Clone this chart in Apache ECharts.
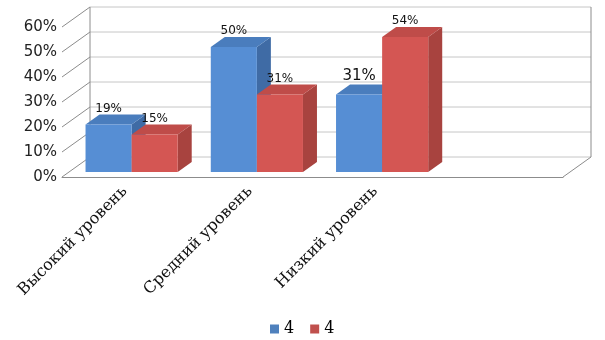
<!DOCTYPE html>
<html><head><meta charset="utf-8">
<script src="https://cdn.jsdelivr.net/npm/echarts@6/dist/echarts.min.js"></script>
<style>html,body{margin:0;padding:0;background:#fff}#c{width:605px;height:340px}</style>
</head><body><div id="c"></div>
<script>
const categories = ['Высокий уровень', 'Средний уровень', 'Низкий уровень', ''];
const seriesNames = ['Ряд 1', 'Ряд 2'];
const legendLabels = ['4', '4'];
const blueValues = [0.19, 0.50, 0.31];
const redValues = [0.15, 0.31, 0.54];
const yTicks = [0, 0.1, 0.2, 0.3, 0.4, 0.5, 0.6];

const DX = 28, DY = -20;        // depth of the 3D box
const FRONT = 0.25, BACK = 0.75; // bar depth fractions
const BAR_FRAC = 0.368;

const palette = [
  {front: '#568ed4', top: '#4a7dbd', side: '#3f6ba5', legend: '#4f81bd'},
  {front: '#d45653', top: '#bf4c49', side: '#a8433f', legend: '#c0504d'}
];
const bigLabel = {s: 0, i: 2};

const chart = echarts.init(document.getElementById('c'));

function frameRender(params, api) {
  const cs = params.coordSys;
  const x0 = cs.x, x1 = cs.x + cs.width;
  const children = [];
  const light = {stroke: '#c6c6c6', lineWidth: 1};
  const dark = {stroke: '#8c8c8c', lineWidth: 1};
  yTicks.forEach(v => {
    const y = api.coord([0, v])[1];
    children.push({type: 'line', shape: {x1: x0 + DX, y1: y + DY, x2: x1 + DX, y2: y + DY}, style: light});
    children.push({type: 'line', shape: {x1: x0, y1: y, x2: x0 + DX, y2: y + DY}, style: dark});
  });
  const yT = api.coord([0, yTicks[yTicks.length - 1]])[1];
  const yB = api.coord([0, 0])[1];
  children.push({type: 'line', shape: {x1: x0 + DX, y1: yT + DY, x2: x0 + DX, y2: yB + DY}, style: dark});
  children.push({type: 'line', shape: {x1: x1 + DX, y1: yT + DY, x2: x1 + DX, y2: yB + DY}, style: dark});
  children.push({type: 'line', shape: {x1: x1, y1: yB, x2: x1 + DX, y2: yB + DY}, style: dark});
  return {type: 'group', children: children};
}

function makeBarRender(sIdx) {
  return function (params, api) {
    const i = api.value(0), v = api.value(1);
    const top = api.coord([i, v]);
    const base = api.coord([i, 0]);
    const band = api.size([1, 0])[0];
    const w = band * BAR_FRAC;
    const xa = sIdx === 0 ? top[0] - w : top[0];
    const xb = xa + w;
    const fx = DX * FRONT, fy = DY * FRONT, bx = DX * BACK, by = DY * BACK;
    const c = palette[sIdx];
    const yt = top[1], yb = base[1];
    const children = [
      {type: 'polygon', shape: {points: [[xb + fx, yt + fy], [xb + fx, yb + fy], [xb + bx, yb + by], [xb + bx, yt + by]]}, style: {fill: c.side}},
      {type: 'polygon', shape: {points: [[xa + fx, yt + fy], [xb + fx, yt + fy], [xb + bx, yt + by], [xa + bx, yt + by]]}, style: {fill: c.top}},
      {type: 'rect', shape: {x: xa + fx, y: yt + fy, width: w, height: yb - yt}, style: {fill: c.front}}
    ];
    const big = (bigLabel.s === sIdx && bigLabel.i === i);
    children.push({
      type: 'text',
      style: {
        x: (xa + xb) / 2 + fx, y: yt + by - (big ? 8 : 6),
        text: Math.round(v * 100) + '%',
        fill: '#111',
        font: (big ? '15px' : '12px') + ' "DejaVu Sans"',
        align: 'center', verticalAlign: 'middle'
      },
      z2: 10
    });
    return {type: 'group', children: children};
  };
}

function seriesData(vals) { return vals.map((v, i) => [i, v]); }

chart.setOption({
  animation: false,
  backgroundColor: '#fff',
  grid: {left: 62, right: 42, top: 27, bottom: 163},
  legend: {
    left: 265, top: 316,
    data: seriesNames,
    icon: 'rect', itemWidth: 9, itemHeight: 9, itemGap: 16,
    formatter: name => legendLabels[seriesNames.indexOf(name)],
    textStyle: {fontFamily: 'DejaVu Serif', fontSize: 16, color: '#000'}
  },
  xAxis: {
    type: 'category', data: categories,
    axisLine: {show: true, lineStyle: {color: '#8c8c8c'}},
    axisTick: {show: false},
    axisLabel: {rotate: 45, margin: 12, fontFamily: 'DejaVu Serif', fontSize: 16, color: '#111', interval: 0}
  },
  yAxis: {
    type: 'value', min: 0, max: 0.6, interval: 0.1,
    axisLine: {show: false}, axisTick: {show: false}, splitLine: {show: false},
    axisLabel: {formatter: v => Math.round(v * 100) + '%', margin: 5, fontFamily: 'DejaVu Sans', fontSize: 15, color: '#222'}
  },
  series: [
    {type: 'custom', name: 'frame', renderItem: frameRender, data: [[0, 0]], silent: true, z: 1},
    {type: 'custom', name: seriesNames[0], renderItem: makeBarRender(0), data: seriesData(blueValues), itemStyle: {color: palette[0].legend}, z: 2},
    {type: 'custom', name: seriesNames[1], renderItem: makeBarRender(1), data: seriesData(redValues), itemStyle: {color: palette[1].legend}, z: 3}
  ]
});
</script></body></html>
